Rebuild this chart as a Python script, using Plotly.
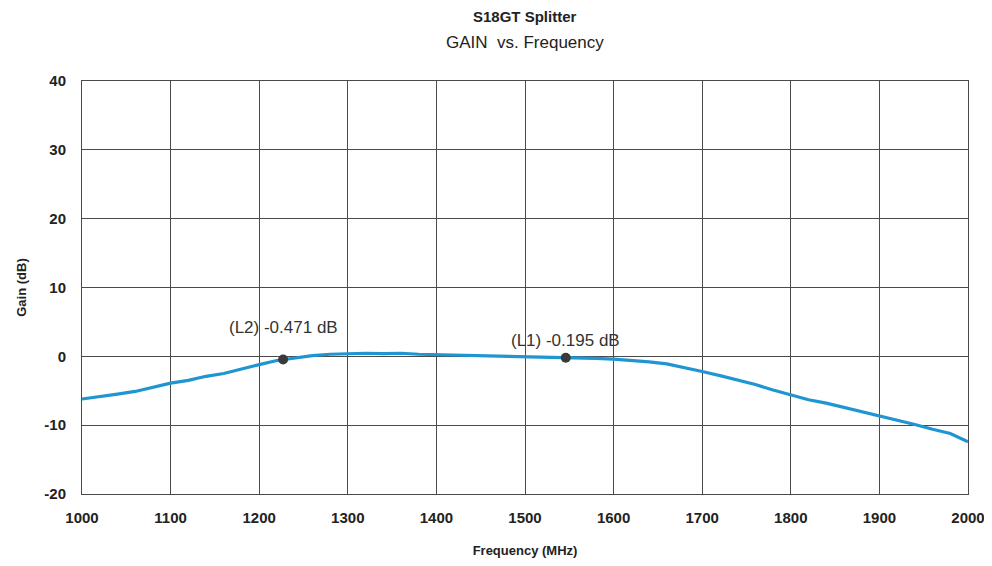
import plotly.graph_objects as go

freq_mhz = [1000, 1020, 1040, 1060, 1080, 1100, 1120, 1140, 1160, 1180,
            1200, 1220, 1240, 1260, 1280, 1300, 1320, 1340, 1360, 1380,
            1400, 1420, 1440, 1460, 1480, 1500, 1520, 1540, 1560, 1580,
            1600, 1620, 1640, 1660, 1680, 1700, 1720, 1740, 1760, 1780,
            1800, 1820, 1840, 1860, 1880, 1900, 1920, 1940, 1960, 1980, 2000]
gain_db = [-6.2, -5.9, -5.5, -5.1, -4.5, -3.9, -3.5, -2.9, -2.5, -1.8,
           -1.2, -0.6, -0.2, 0.1, 0.3, 0.4, 0.45, 0.4, 0.45, 0.3,
           0.25, 0.1, 0.05, 0.0, -0.05, -0.1, -0.15, -0.2, -0.2, -0.3,
           -0.4, -0.55, -0.8, -1.1, -1.6, -2.2, -2.8, -3.4, -4.1, -4.9,
           -5.6, -6.3, -6.8, -7.4, -8.1, -8.7, -9.3, -9.9, -10.6, -11.2, -12.4]

marker_names = ["(L2)", "(L1)"]
marker_freq = [1227, 1546]
marker_gain = [-0.471, -0.195]
label_offset_db = [4.6, 2.5]

x_ticks = [1000, 1100, 1200, 1300, 1400, 1500, 1600, 1700, 1800, 1900, 2000]
y_ticks = [-20, -10, 0, 10, 20, 30, 40]
y_tick_text = ["-20", "-10", "0", "10", "20", "30", "40"]

fig = go.Figure()
fig.add_trace(go.Scatter(x=freq_mhz, y=gain_db, mode="lines",
                         line=dict(color="#1f95d2", width=3.2),
                         showlegend=False))
fig.add_trace(go.Scatter(x=marker_freq, y=marker_gain, mode="markers",
                         marker=dict(color="#3a3a3a", size=10),
                         showlegend=False))

for name, fx, gy, off in zip(marker_names, marker_freq, marker_gain, label_offset_db):
    fig.add_annotation(x=fx, y=gy + off, text=f"{name} {gy:.3f} dB",
                       showarrow=False, xanchor="center", yanchor="middle",
                       font=dict(family="Liberation Sans, Arial", size=17, color="#333333"))

fig.add_annotation(xref="paper", yref="paper", x=0.5, y=1.0, yshift=65,
                   text="<b>S18GT Splitter</b>", showarrow=False,
                   xanchor="center", yanchor="middle",
                   font=dict(family="Liberation Sans, Arial", size=15, color="#222222"))
fig.add_annotation(xref="paper", yref="paper", x=0.5, y=1.0, yshift=39,
                   text="GAIN  vs. Frequency", showarrow=False,
                   xanchor="center", yanchor="middle",
                   font=dict(family="Liberation Sans, Arial", size=17, color="#222222"))

fig.update_layout(
    width=992, height=566,
    margin=dict(l=74, r=32, t=73, b=80),
    paper_bgcolor="white", plot_bgcolor="white",
    font=dict(family="Liberation Sans, Arial", color="#222222"),
    xaxis=dict(range=[1000, 2000], tickvals=x_ticks, showgrid=True,
               gridcolor="#4a4a4a", gridwidth=1, showline=True, linecolor="#4a4a4a",
               mirror=True, zeroline=False, ticks="", ticklen=0,
               ticklabelstandoff=10,
               tickfont=dict(size=15, weight="bold", color="#222222"),
               title=dict(text="<b>Frequency (MHz)</b>", font=dict(size=13), standoff=20)),
    yaxis=dict(range=[-20, 40], tickvals=y_ticks, ticktext=y_tick_text, showgrid=True,
               gridcolor="#4a4a4a", gridwidth=1, showline=True, linecolor="#4a4a4a",
               mirror=True, zeroline=False, ticks="", ticklen=0,
               ticklabelstandoff=12,
               tickfont=dict(size=15, weight="bold", color="#222222"),
               title=dict(text="<b>Gain (dB)</b>", font=dict(size=13), standoff=14)),
)

fig.write_html("out.html")
